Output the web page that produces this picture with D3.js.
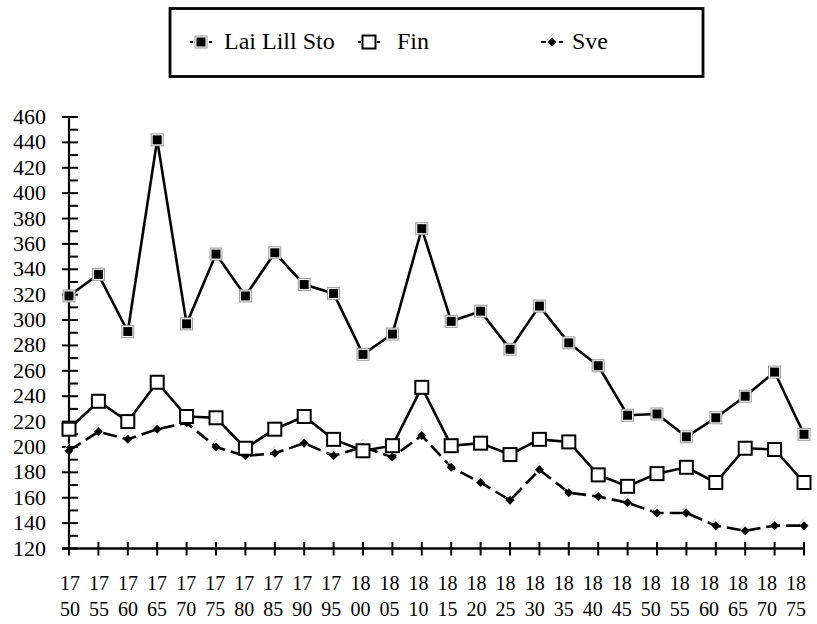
<!DOCTYPE html>
<html>
<head>
<meta charset="utf-8">
<script src="https://cdn.jsdelivr.net/npm/d3@7"></script>
<style>
html,body{margin:0;padding:0;background:#fff;}
</style>
</head>
<body>
<svg id="chart" width="817" height="624"></svg>
<script>
const years = ["1750","1755","1760","1765","1770","1775","1780","1785","1790","1795","1800","1805","1810","1815","1820","1825","1830","1835","1840","1845","1850","1855","1860","1865","1870","1875"];
const laiLillSto = [319,336,291,442,297,352,319,353,328,321,273,289,372,299,307,277,311,282,264,225,226,208,223,240,259,210];
const fin = [214,236,220,251,224,223,199,214,224,206,197,201,247,201,203,194,206,204,178,169,179,184,172,199,198,172];
const sve = [197,212,206,214,219,200,193,195,203,193,200,192,209,184,172,158,182,164,161,156,148,148,138,134,138,138];
const yTicks = [120,140,160,180,200,220,240,260,280,300,320,340,360,380,400,420,440,460];
const seriesNames = ["Lai Lill Sto","Fin","Sve"];

if (document.fonts && document.fonts.load) {
  [20,22,24].forEach(s => document.fonts.load(`${s}px "Liberation Serif"`, "Lai Lill Sto 0123456789"));
}
const probe = document.createElement("canvas").getContext("2d");
function measureFont(){
  [20,22,24,26].forEach(s=>{
    probe.font = `${s}px monospace`; probe.measureText("Lai Lill Sto 0123456789 Fin Sve");
    probe.font = `${s}px "Liberation Serif", monospace`; probe.measureText("Lai Lill Sto 0123456789 Fin Sve");
  });
}
measureFont();

const FONT = '"Liberation Serif"';
const svg = d3.select("#chart");
const x = d3.scalePoint().domain(years).range([69, 804]);
const xl = d3.scalePoint().domain(years).range([70, 796]);
const y = d3.scaleLinear().domain([120, 460]).range([548.5, 117]);

// Y axis
svg.append("line").attr("x1",69).attr("x2",69).attr("y1",y(460)).attr("y2",y(120))
  .attr("stroke","#000").attr("stroke-width",2.2);
const minor = d3.range(0, yTicks.length-1).map(i => (yTicks[i]+yTicks[i+1])/2);
svg.selectAll(".maj").data(yTicks).join("line").attr("class","maj")
  .attr("x1",62).attr("x2",78).attr("y1",d=>y(d)).attr("y2",d=>y(d))
  .attr("stroke","#000").attr("stroke-width",2);
svg.selectAll(".min").data(minor).join("line").attr("class","min")
  .attr("x1",69).attr("x2",78).attr("y1",d=>y(d)).attr("y2",d=>y(d))
  .attr("stroke","#000").attr("stroke-width",2);
svg.selectAll(".yl").data(yTicks).join("text").attr("class","yl")
  .attr("font-family",FONT)
  .attr("font-size",22)
  .attr("x",46).attr("y",d=>y(d)+7).attr("text-anchor","end")
  .text(d=>d);

// X axis
svg.append("line").attr("x1",62).attr("x2",805).attr("y1",y(120)).attr("y2",y(120))
  .attr("stroke","#000").attr("stroke-width",2.4);
svg.selectAll(".xt").data(years).join("line").attr("class","xt")
  .attr("x1",d=>x(d)).attr("x2",d=>x(d)).attr("y1",y(120)-6.5).attr("y2",y(120)+7)
  .attr("stroke","#000").attr("stroke-width",2);
[["l1",0,590],["l2",2,616]].forEach(([cls,off,yy])=>{
  svg.selectAll("."+cls).data(years).join("text").attr("class",cls)
    .attr("font-family",FONT)
    .attr("font-size",20)
    .attr("x",d=>xl(d)).attr("y",yy).attr("text-anchor","middle")
    .text(d=>d.slice(off,off+2));
});

const line = d3.line().x((d,i)=>x(years[i])).y(d=>y(d));

svg.append("path").attr("d",line(sve)).attr("fill","none").attr("stroke","#000")
  .attr("stroke-width",2.6).attr("stroke-dasharray","14,6");
svg.append("path").attr("d",line(fin)).attr("fill","none").attr("stroke","#000")
  .attr("stroke-width",2.6);
svg.append("path").attr("d",line(laiLillSto)).attr("fill","none").attr("stroke","#000")
  .attr("stroke-width",2.6);

function laiMarker(g, cx, cy){
  g.append("rect").attr("x",cx-6).attr("y",cy-6).attr("width",12).attr("height",12)
    .attr("fill","#fff").attr("stroke","#999").attr("stroke-width",1);
  g.append("rect").attr("x",cx-4.5).attr("y",cy-4.5).attr("width",9).attr("height",9).attr("fill","#000");
}
function finMarker(g, cx, cy){
  g.append("rect").attr("x",cx-6.5).attr("y",cy-6.5).attr("width",13).attr("height",13)
    .attr("fill","#fff").attr("stroke","#000").attr("stroke-width",2);
}
function sveMarker(g, cx, cy){
  g.append("line").attr("x1",cx-5).attr("y1",cy-2).attr("x2",cx+1).attr("y2",cy-8)
    .attr("stroke","#ccc").attr("stroke-width",1);
  g.append("path").attr("d",`M${cx},${cy-4.5}L${cx+4.5},${cy}L${cx},${cy+4.5}L${cx-4.5},${cy}Z`).attr("fill","#000");
}

const mS = svg.append("g");
sve.forEach((v,i)=>sveMarker(mS, x(years[i]), y(v)));
const mF = svg.append("g");
fin.forEach((v,i)=>finMarker(mF, x(years[i]), y(v)));
const mL = svg.append("g");
laiLillSto.forEach((v,i)=>laiMarker(mL, x(years[i]), y(v)));

// Legend
svg.append("rect").attr("x",170).attr("y",8.5).attr("width",533).attr("height",68)
  .attr("fill","#fff").attr("stroke","#000").attr("stroke-width",2.8);
const ly = 42;
const items = [
  {mx:201, tx:224, name:seriesNames[0], f:laiMarker, dash:null},
  {mx:369, tx:397, name:seriesNames[1], f:finMarker, dash:null},
  {mx:552, tx:572, name:seriesNames[2], f:sveMarker, dash:"5,4"}
];
const lg = svg.append("g");
items.forEach(it=>{
  lg.append("line").attr("x1",it.mx-11).attr("x2",it.mx+11).attr("y1",ly).attr("y2",ly)
    .attr("stroke","#000").attr("stroke-width",2).attr("stroke-dasharray", it.dash ? it.dash : "3,16,3");
  it.f(lg, it.mx, ly);
  svg.append("text").attr("font-family",FONT)
    .attr("font-size",24)
    .attr("x",it.tx).attr("y",ly+7)
    .text(it.name);
});

// give the system font time to be picked up before the page finishes loading
const t0 = performance.now();
const texts = document.querySelectorAll("text");
while (performance.now() - t0 < 700) {
  measureFont();
  texts.forEach(t => t.getComputedTextLength());
}
</script>
</body>
</html>
